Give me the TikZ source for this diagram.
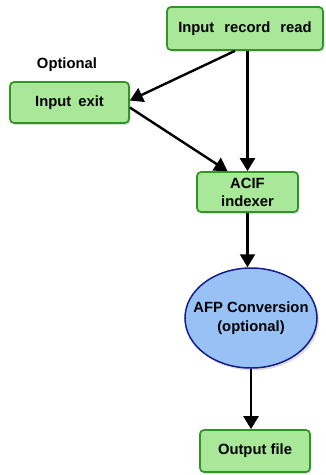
\documentclass[tikz,border=0pt]{standalone}
\usepackage{fontspec}
\setmainfont{Liberation Sans}
\usetikzlibrary{arrows.meta,shapes.geometric,shadows}
\definecolor{boxgreen}{RGB}{168,232,152}
\definecolor{edgegreen}{RGB}{50,148,38}
\definecolor{ovalblue}{RGB}{152,194,246}
\definecolor{edgeblue}{RGB}{20,30,138}

\begin{document}
\begin{tikzpicture}[x=1pt,y=-1pt,
  stepbox/.style={draw=edgegreen, fill=boxgreen, line width=1.7pt,
    rounded corners=4pt, inner sep=0pt, align=center,
    drop shadow={shadow xshift=1.5pt, shadow yshift=-2pt, opacity=0.25},
    font=\bfseries\fontsize{14.8}{18}\selectfont},
  oval/.style={ellipse, draw=edgeblue, fill=ovalblue, line width=1.5pt,
    inner xsep=-16pt, inner ysep=0pt, align=center,
    drop shadow={shadow xshift=2pt, shadow yshift=-2.5pt, opacity=0.25},
    font=\bfseries\fontsize{14.8}{19.5}\selectfont},
  flow/.style={line width=2.4pt, -{Triangle[length=13pt,width=15pt]}}]
\useasboundingbox (0,0) rectangle (326,475);

% Top box and the optional exit
\node[stepbox, minimum width=156, minimum height=43] (read) at (245,28.5)
  {Input\hspace{10pt}record\hspace{10pt}read};
\node[stepbox, minimum width=119, minimum height=41] (exit) at (69.5,102.5)
  {Input\hspace{7pt}exit};
\node[font=\bfseries\fontsize{14.8}{18}\selectfont] (optlabel) at (67,65) {Optional};

% Indexer, conversion and output
\node[stepbox, minimum width=101, minimum height=40] (acif) at (247.5,192)
  {ACIF\\indexer};
\node[oval, minimum width=132, minimum height=100] (afp) at (251,318)
  {AFP Conversion\\(optional)};
\node[stepbox, minimum width=110, minimum height=42] (out) at (255,451)
  {Output file};

% Arrows
\draw[flow] ([xshift=-10pt]read.south) -- ([yshift=2pt]exit.east);
\draw[flow] (acif.north |- read.south) -- (acif.north);
\draw[flow] ([yshift=-5pt]exit.east) -- ([xshift=-20pt]acif.north);
\draw[flow] (acif.south) -- (acif.south |- afp.north);
\draw[flow] (afp.south) -- (afp.south |- out.north);
\end{tikzpicture}
\end{document}
